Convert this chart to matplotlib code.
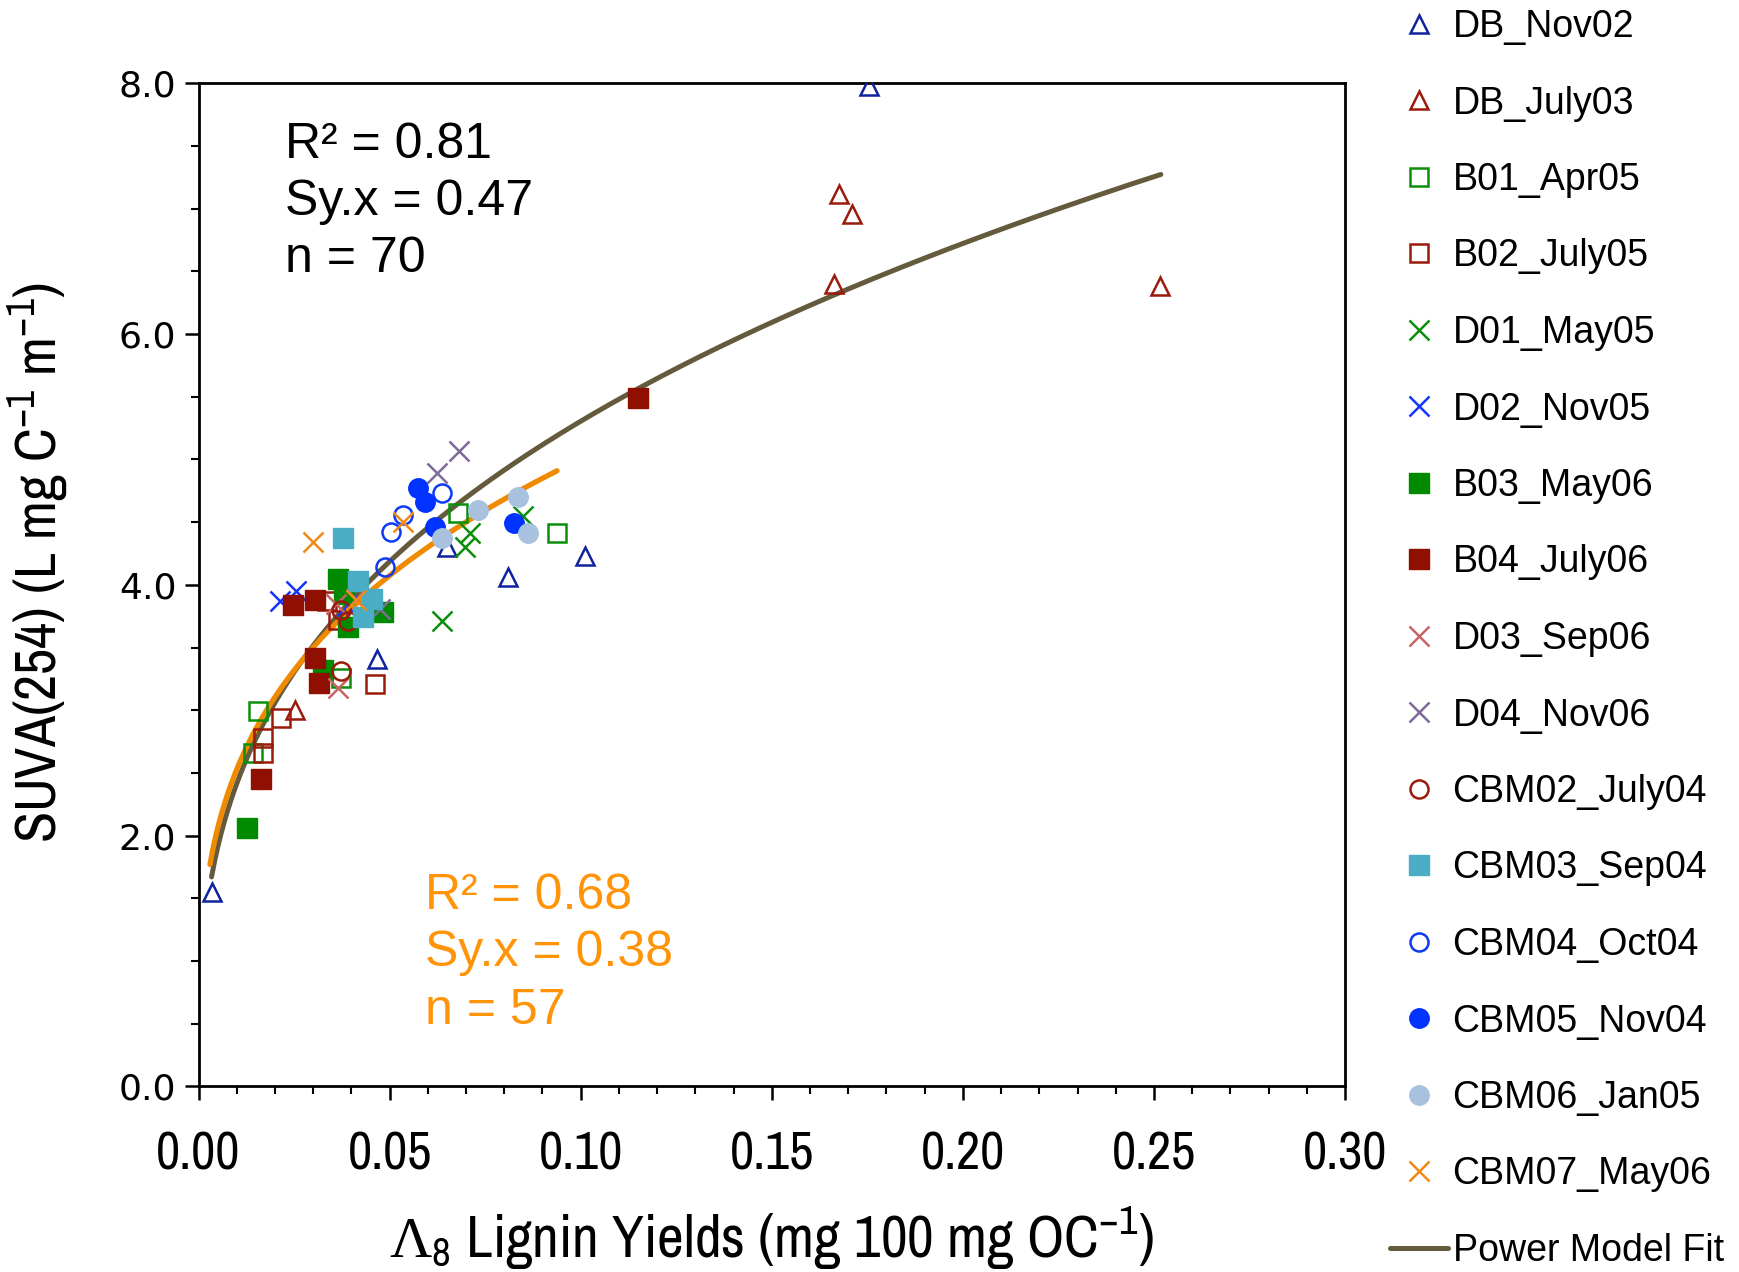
import numpy as np
import matplotlib
matplotlib.use('Agg')
import matplotlib.pyplot as plt
from matplotlib.ticker import MultipleLocator, FormatStrFormatter

# fonts
plt.rcParams['font.family'] = ['Liberation Sans', 'DejaVu Sans']
plt.rcParams['mathtext.fontset'] = 'custom'
plt.rcParams['mathtext.rm'] = 'Archivo Narrow'
plt.rcParams['mathtext.sf'] = 'Liberation Serif'
narrow = ['Archivo Narrow', 'Liberation Sans']

# data (x = lignin yield, y = SUVA254)
db_nov02_x = [0.0034, 0.0467, 0.0650, 0.0810, 0.1011, 0.1754]
db_nov02_y = [1.55, 3.41, 4.30, 4.06, 4.23, 7.98]
db_july03_x = [0.0252, 0.1664, 0.1676, 0.1710, 0.2515]
db_july03_y = [3.00, 6.40, 7.12, 6.96, 6.38]
b01_apr05_x = [0.0143, 0.0156, 0.0374, 0.0680, 0.0937]
b01_apr05_y = [2.66, 2.99, 3.26, 4.57, 4.41]
b02_july05_x = [0.0169, 0.0169, 0.0217, 0.0335, 0.0366, 0.0462]
b02_july05_y = [2.66, 2.78, 2.94, 3.87, 3.72, 3.21]
d01_may05_x = [0.0636, 0.0697, 0.0710, 0.0850]
d01_may05_y = [3.71, 4.30, 4.41, 4.55]
d02_nov05_x = [0.0213, 0.0255, 0.0388]
d02_nov05_y = [3.87, 3.95, 3.83]
b03_may06_x = [0.0128, 0.0326, 0.0366, 0.0380, 0.0392, 0.0483]
b03_may06_y = [2.06, 3.32, 4.05, 3.93, 3.66, 3.78]
b04_july06_x = [0.0163, 0.0248, 0.0305, 0.0305, 0.0316, 0.1150]
b04_july06_y = [2.45, 3.84, 3.88, 3.42, 3.22, 5.49]
d03_sep06_x = [0.0361, 0.0366, 0.0412]
d03_sep06_y = [3.85, 3.18, 3.89]
d04_nov06_x = [0.0475, 0.0625, 0.0682]
d04_nov06_y = [3.81, 4.89, 5.07]
cbm02_july04_x = [0.0374, 0.0374, 0.0392]
cbm02_july04_y = [3.31, 3.80, 3.71]
cbm03_sep04_x = [0.0377, 0.0416, 0.0431, 0.0453]
cbm03_sep04_y = [4.37, 4.03, 3.74, 3.89]
cbm04_oct04_x = [0.0488, 0.0504, 0.0536, 0.0636]
cbm04_oct04_y = [4.14, 4.42, 4.56, 4.73]
cbm05_nov04_x = [0.0573, 0.0593, 0.0619, 0.0826]
cbm05_nov04_y = [4.77, 4.66, 4.46, 4.49]
cbm06_jan05_x = [0.0636, 0.0732, 0.0837, 0.0863]
cbm06_jan05_y = [4.37, 4.60, 4.70, 4.41]
cbm07_may06_x = [0.0300, 0.0412, 0.0536]
cbm07_may06_y = [4.34, 3.88, 4.50]

# power model fits y = a*x^b
fit_all_a, fit_all_b = 11.65, 0.3417
fit_all_range = [0.0034, 0.2518]
fit_sub_a, fit_sub_b = 9.90, 0.2964
fit_sub_range = [0.0030, 0.0938]

navy = '#10239E'
dred = '#9A1A0C'
green = '#0A8F0A'

# label, x, y, marker, colour, filled, size
series = [
    ('DB_Nov02', db_nov02_x, db_nov02_y, '^', navy, False, 13),
    ('DB_July03', db_july03_x, db_july03_y, '^', dred, False, 13),
    ('B01_Apr05', b01_apr05_x, b01_apr05_y, 's', green, False, 13),
    ('B02_July05', b02_july05_x, b02_july05_y, 's', dred, False, 13),
    ('D01_May05', d01_may05_x, d01_may05_y, 'x', green, False, 14),
    ('D02_Nov05', d02_nov05_x, d02_nov05_y, 'x', '#1434FF', False, 14),
    ('B03_May06', b03_may06_x, b03_may06_y, 's', '#008A00', True, 14),
    ('B04_July06', b04_july06_x, b04_july06_y, 's', '#8F1000', True, 14),
    ('D03_Sep06', d03_sep06_x, d03_sep06_y, 'x', '#C86464', False, 14),
    ('D04_Nov06', d04_nov06_x, d04_nov06_y, 'x', '#7F6A9A', False, 14),
    ('CBM02_July04', cbm02_july04_x, cbm02_july04_y, 'o', dred, False, 13),
    ('CBM03_Sep04', cbm03_sep04_x, cbm03_sep04_y, 's', '#4BACC6', True, 15),
    ('CBM04_Oct04', cbm04_oct04_x, cbm04_oct04_y, 'o', '#0D3AF5', False, 13),
    ('CBM05_Nov04', cbm05_nov04_x, cbm05_nov04_y, 'o', '#0033FF', True, 14),
    ('CBM06_Jan05', cbm06_jan05_x, cbm06_jan05_y, 'o', '#A7C1DF', True, 14),
    ('CBM07_May06', cbm07_may06_x, cbm07_may06_y, 'x', '#F08A14', False, 14),
]

fig = plt.figure(figsize=(17.4, 12.72), dpi=100)
ax = fig.add_axes([0.1141, 0.1459, 0.773 - 0.1141, 0.9346 - 0.1459])

# fit curves
xs = np.linspace(fit_all_range[0], fit_all_range[1], 300)
fit_line, = ax.plot(xs, fit_all_a * xs ** fit_all_b, color='#635B3C', lw=3.6,
                    solid_capstyle='round', zorder=2, label='Power Model Fit')
xs2 = np.linspace(fit_sub_range[0], fit_sub_range[1], 300)
ax.plot(xs2, fit_sub_a * xs2 ** fit_sub_b, color='#F08A00', lw=3.8,
        solid_capstyle='round', zorder=2)

handles = []
for lab, x, y, m, c, filled, ms in series:
    if filled:
        h, = ax.plot(x, y, ls='none', marker=m, ms=ms, mfc=c, mec=c, mew=1,
                     label=lab, zorder=3)
    else:
        h, = ax.plot(x, y, ls='none', marker=m, ms=ms, mfc='none', mec=c,
                     mew=1.8, label=lab, zorder=3)
    handles.append(h)
handles.append(fit_line)

ax.set_xlim(0, 0.30)
ax.set_ylim(0, 8.0)
ax.xaxis.set_major_locator(MultipleLocator(0.05))
ax.xaxis.set_minor_locator(MultipleLocator(0.01))
ax.yaxis.set_major_locator(MultipleLocator(2.0))
ax.yaxis.set_minor_locator(MultipleLocator(0.5))
ax.xaxis.set_major_formatter(FormatStrFormatter('%.2f'))
ax.yaxis.set_major_formatter(FormatStrFormatter('%.1f'))

for s in ax.spines.values():
    s.set_linewidth(2.0)
ax.tick_params(axis='both', which='major', direction='out', length=10, width=1.8)
ax.tick_params(axis='both', which='minor', direction='out', length=6, width=1.5)
ax.tick_params(axis='y', which='major', pad=6)
ax.tick_params(axis='x', which='major', pad=22)
for t in ax.get_xticklabels():
    t.set_family(narrow)
    t.set_fontsize(38)
for t in ax.get_yticklabels():
    t.set_family('DejaVu Sans')
    t.set_fontsize(26)

ax.set_xlabel(r'$\mathsf{\Lambda}_{8}$ Lignin Yields (mg 100 mg OC$^{-1}$)',
              family=narrow, fontsize=42, labelpad=19)
ax.set_ylabel(r'SUVA(254) (L mg C$^{-1}$ m$^{-1}$)', family=narrow,
              fontsize=41)
ax.yaxis.set_label_coords(-0.112, 0.522)

# statistics
for i, s in enumerate(['R\u00b2 = 0.81', 'Sy.x = 0.47', 'n = 70']):
    ax.text(0.0755, 0.938 - i * 0.0565, s, transform=ax.transAxes,
            fontsize=36, va='center', ha='left', color='black')
for i, s in enumerate(['R\u00b2 = 0.68', 'Sy.x = 0.38', 'n = 57']):
    ax.text(0.1975, 0.19 - i * 0.0575, s, transform=ax.transAxes,
            fontsize=36, va='center', ha='left', color='#FF9408')

fig.legend(handles=handles, loc='upper left',
           bbox_to_anchor=(1390 / 1740, 1 - 9 / 1272),
           bbox_transform=fig.transFigure, frameon=False, fontsize=27,
           borderpad=0, borderaxespad=0, handlelength=1.55,
           handletextpad=0.12, labelspacing=1.08, markerscale=1.0,
           numpoints=1)

fig.savefig('out.png', dpi=100)
